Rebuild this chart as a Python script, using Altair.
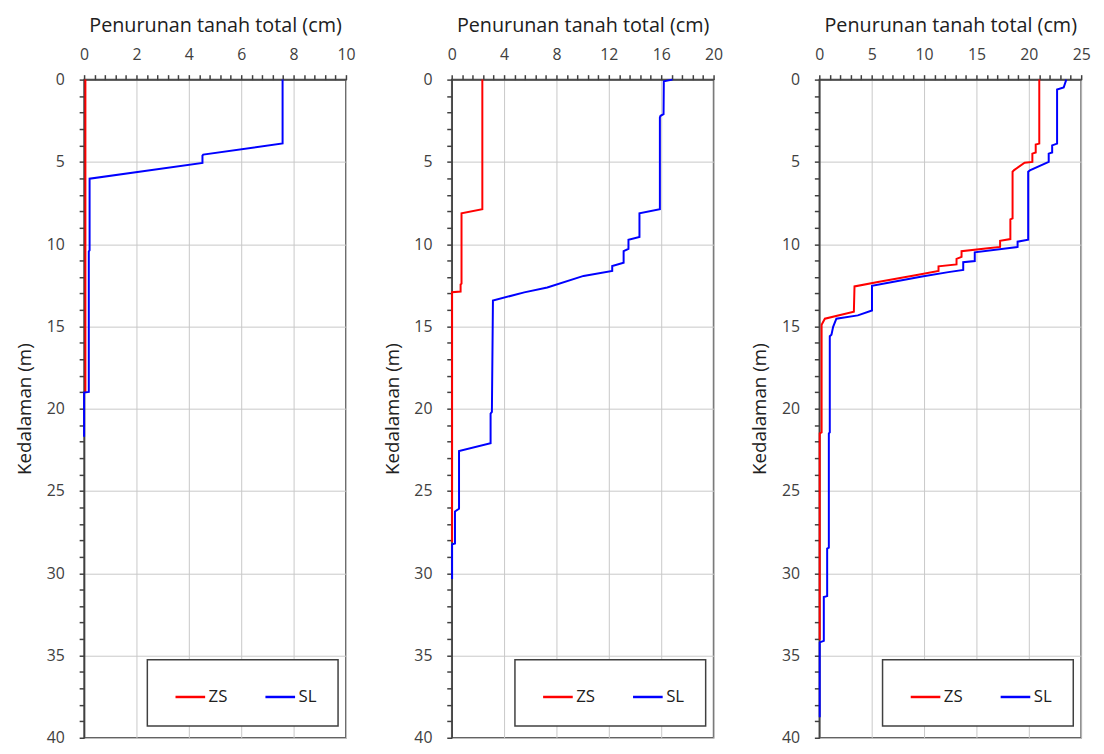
import altair as alt
import pandas as pd

# ---------------- data ----------------
series = ["ZS", "SL"]

# Panel 1 (x: 0-10 cm)
p1_zs_x = [0.05, 0.05]
p1_zs_d = [0.0, 19.0]
p1_sl_x = [7.58, 7.58, 4.55, 4.52, 4.52, 0.21, 0.21, 0.18, 0.18, 0.0, 0.0]
p1_sl_d = [0.0, 3.88, 4.56, 4.62, 5.06, 6.02, 10.37, 10.45, 18.98, 19.02, 21.7]

# Panel 2 (x: 0-20 cm)
p2_zs_x = [2.34, 2.34, 0.75, 0.75, 0.68, 0.68, 0.03, 0.03]
p2_zs_d = [0.0, 7.87, 8.12, 12.4, 12.45, 12.88, 12.92, 28.1]
p2_sl_x = [16.86, 16.2, 16.18, 15.95, 15.9, 15.9, 14.34, 14.34, 13.5, 13.5, 13.13, 13.13,
           12.26, 12.26, 10.07, 7.3, 5.54, 3.15, 3.07, 2.97, 2.97, 0.56, 0.56, 0.25,
           0.25, 0.03, 0.03]
p2_sl_d = [0.0, 0.1, 2.1, 2.2, 2.3, 7.88, 8.13, 9.57, 9.73, 10.29, 10.43, 11.13,
           11.33, 11.63, 11.93, 12.63, 12.93, 13.43, 20.2, 20.3, 22.1, 22.58, 26.08, 26.25,
           28.19, 28.25, 30.35]

# Panel 3 (x: 0-25 cm)
p3_zs_x = [21.0, 21.0, 20.66, 20.66, 20.34, 20.34, 19.6, 18.6, 18.45, 18.45, 18.24, 18.24,
           17.26, 17.26, 16.1, 13.58, 13.58, 13.1, 13.1, 11.38, 11.38, 9.18, 5.72, 3.36,
           3.3, 0.53, 0.22, 0.22, 0.04, 0.04]
p3_zs_d = [0.0, 3.89, 3.95, 4.43, 4.5, 5.0, 5.05, 5.5, 5.6, 8.43, 8.5, 9.69,
           9.8, 10.17, 10.25, 10.43, 10.77, 10.9, 11.23, 11.35, 11.63, 11.89, 12.29, 12.57,
           14.1, 14.53, 14.9, 21.44, 21.5, 34.05]
p3_sl_x = [23.58, 23.33, 22.7, 22.7, 22.23, 22.23, 21.9, 21.9, 20.1, 19.94, 19.94, 18.93,
           18.93, 14.84, 14.84, 13.74, 13.74, 12.32, 9.81, 6.98, 5.03, 5.03, 3.68, 1.63,
           1.32, 1.16, 1.0, 1.0, 0.91, 0.91, 0.75, 0.75, 0.43, 0.43, 0.04, 0.04]
p3_sl_d = [0.0, 0.48, 0.6, 3.89, 4.0, 4.43, 4.5, 5.0, 5.52, 5.6, 9.73, 9.85,
           10.17, 10.5, 11.03, 11.1, 11.57, 11.7, 11.97, 12.3, 12.53, 14.03, 14.33, 14.53,
           15.03, 15.5, 15.6, 21.44, 21.5, 28.45, 28.5, 31.39, 31.45, 34.11, 34.2, 38.76]

x_max = [10, 20, 25]
x_major = [2, 4, 5]
x_minor = [0.4, 0.8, 1.0]
depth_max = 40

FONT = "Open Sans"
DARK = "#404040"


def build_df(zs_x, zs_d, sl_x, sl_d):
    rows = []
    for i, (x, d) in enumerate(zip(zs_x, zs_d)):
        rows.append({"x": x, "d": d, "s": "ZS", "i": i})
    for i, (x, d) in enumerate(zip(sl_x, sl_d)):
        rows.append({"x": x, "d": d, "s": "SL", "i": i})
    return pd.DataFrame(rows)


def panel(df, xmax, major, minor):
    n = int(round(xmax / minor))
    xvals = [round(k * minor, 4) for k in range(n + 1)]
    xtest = f"abs(datum.value/{major} - round(datum.value/{major})) < 1e-6"
    yvals = list(range(0, depth_max + 1))
    ytest = "datum.value % 5 === 0"
    return alt.Chart(df).mark_line(strokeWidth=2, clip=False).encode(
        x=alt.X("x:Q",
                scale=alt.Scale(domain=[0, xmax], nice=False, zero=True),
                axis=alt.Axis(orient="top", values=xvals,
                              title="Penurunan tanah total (cm)", titleFontSize=20,
                              labelPadding=12, titlePadding=12,
                              labelExpr=f"{xtest} ? format(datum.value, '.0f') : ''",
                              gridOpacity={"condition": {"test": xtest, "value": 1}, "value": 0})),
        y=alt.Y("d:Q",
                scale=alt.Scale(domain=[0, depth_max], reverse=True, nice=False),
                axis=alt.Axis(values=yvals, title="Kedalaman (m)", titleFontSize=19,
                              labelPadding=15, titlePadding=12,
                              labelExpr=f"{ytest} ? format(datum.value, '.0f') : ''",
                              gridOpacity={"condition": {"test": ytest, "value": 1}, "value": 0})),
        color=alt.Color("s:N",
                        scale=alt.Scale(domain=series, range=["#ff0000", "#0000ff"]),
                        legend=alt.Legend(title=None, orient="none", legendX=64, legendY=587,
                                          direction="horizontal", symbolType="stroke",
                                          symbolSize=900, symbolStrokeWidth=2.5,
                                          labelFont=FONT, labelFontSize=17, labelColor="#202020",
                                          labelOffset=2, columnPadding=30, padding=21,
                                          symbolOffset=6,
                                          labelExpr="datum.label + '\u00a0\u00a0'",
                                          fillColor="white", strokeColor=DARK)),
        order="i:Q",
    ).properties(width=265, height=666)


p1 = panel(build_df(p1_zs_x, p1_zs_d, p1_sl_x, p1_sl_d), x_max[0], x_major[0], x_minor[0])
p2 = panel(build_df(p2_zs_x, p2_zs_d, p2_sl_x, p2_sl_d), x_max[1], x_major[1], x_minor[1])
p3 = panel(build_df(p3_zs_x, p3_zs_d, p3_sl_x, p3_sl_d), x_max[2], x_major[2], x_minor[2])

chart = alt.hconcat(p1, p2, p3, spacing=26).resolve_scale(
    color="independent", x="independent"
).resolve_legend(color="independent").properties(
    padding={"top": 2, "left": 6, "right": 5, "bottom": 5}
).configure_view(
    stroke=DARK, strokeWidth=1.5
).configure_axis(
    domainColor=DARK, domainWidth=1.5, tickColor=DARK, tickWidth=1.5, tickSize=5,
    gridColor="#c8c8c8", gridWidth=1, labelFlush=False,
    labelFont=FONT, labelFontSize=16, labelColor=DARK,
    titleFont=FONT, titleFontWeight="normal", titleColor="#202020",
).configure_legend(strokeWidth=1.5)

chart.save("out.html", embed_options={"renderer": "svg", "actions": False})
